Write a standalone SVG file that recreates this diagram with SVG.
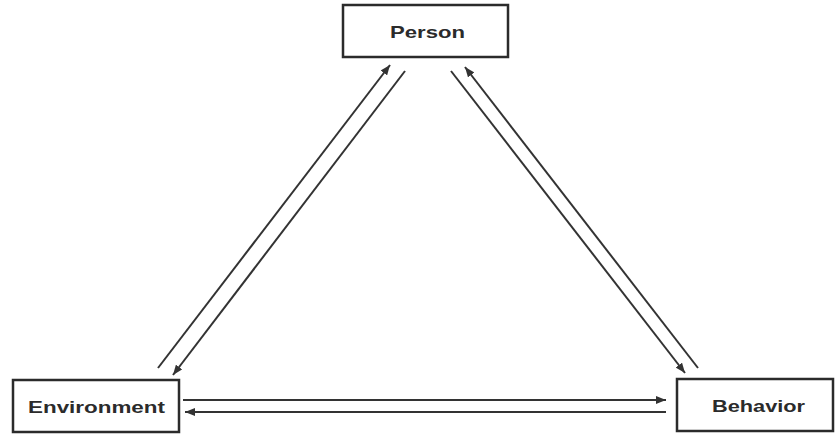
<svg xmlns="http://www.w3.org/2000/svg" width="836" height="436" viewBox="0 0 836 436">
<style>
.box{fill:#fff;stroke:#2b2b2b;stroke-width:2.5}
.lbl{font-family:"Liberation Sans",Arial,sans-serif;font-weight:bold;font-size:17px;fill:#2b2b2b;text-anchor:middle}
.con{stroke:#333;stroke-width:2;fill:none;marker-end:url(#ah)}
</style>
<defs>
<marker id="ah" viewBox="0 0 10 8" refX="10" refY="4" markerWidth="10" markerHeight="8" markerUnits="userSpaceOnUse" orient="auto">
<path d="M0,0 L10,4 L0,8 Z" fill="#333"/>
</marker>
</defs>
<rect width="836" height="436" fill="#fff"/>
<g id="connectors">
<line class="con" x1="158" y1="368" x2="390" y2="65"/>
<line class="con" x1="405" y1="71" x2="173" y2="375"/>
<line class="con" x1="451" y1="71" x2="685" y2="373"/>
<line class="con" x1="698" y1="368" x2="465" y2="67"/>
<line class="con" x1="183" y1="400" x2="666" y2="400"/>
<line class="con" x1="666" y1="412" x2="185" y2="412"/>
</g>
<g id="person">
<rect class="box" x="343" y="5" width="165" height="52"/>
<text class="lbl" x="427.5" y="38" textLength="75" lengthAdjust="spacingAndGlyphs">Person</text>
</g>
<g id="environment">
<rect class="box" x="13" y="380" width="166" height="52"/>
<text class="lbl" x="96.5" y="413" textLength="137" lengthAdjust="spacingAndGlyphs">Environment</text>
</g>
<g id="behavior">
<rect class="box" x="677" y="379" width="156" height="52"/>
<text class="lbl" x="758.5" y="412" textLength="93" lengthAdjust="spacingAndGlyphs">Behavior</text>
</g>
</svg>
